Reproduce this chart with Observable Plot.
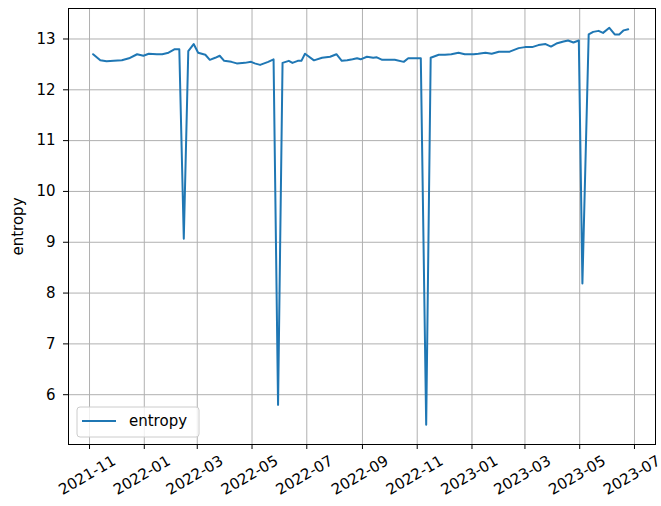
<!DOCTYPE html>
<html><head><meta charset="utf-8">
<script src="https://cdn.jsdelivr.net/npm/d3@7"></script>
<script src="https://cdn.jsdelivr.net/npm/@observablehq/plot@0.6"></script>
<style>body{margin:0;background:#fff} #chart{width:661px;height:506px}</style>
</head><body><div id="chart"></div>
<script>
const seriesName = "entropy";
const dates = [
"2021-11-05","2021-11-13","2021-11-20","2021-11-28","2021-12-07","2021-12-15","2021-12-24","2021-12-31",
"2022-01-06","2022-01-15","2022-01-21","2022-01-28","2022-02-04","2022-02-09","2022-02-14","2022-02-19",
"2022-02-25","2022-03-02","2022-03-10","2022-03-15","2022-03-21","2022-03-26","2022-03-31","2022-04-08",
"2022-04-14","2022-04-23","2022-04-30","2022-05-04","2022-05-10","2022-05-19","2022-05-25","2022-05-30",
"2022-06-04","2022-06-11","2022-06-15","2022-06-21","2022-06-25","2022-06-29","2022-07-09","2022-07-18",
"2022-07-27","2022-08-03","2022-08-09","2022-08-15","2022-08-21","2022-08-26","2022-08-30","2022-09-06",
"2022-09-13","2022-09-17","2022-09-23","2022-09-30","2022-10-07","2022-10-17","2022-10-22","2022-10-29",
"2022-11-05","2022-11-11","2022-11-16","2022-11-25","2022-12-02","2022-12-09","2022-12-17","2022-12-24",
"2023-01-03","2023-01-08","2023-01-16","2023-01-23","2023-01-31","2023-02-06","2023-02-12","2023-02-22",
"2023-03-01","2023-03-09","2023-03-16","2023-03-24","2023-03-30","2023-04-05","2023-04-13","2023-04-18",
"2023-04-24","2023-04-30","2023-05-04","2023-05-11","2023-05-16","2023-05-22","2023-05-27","2023-06-03",
"2023-06-09","2023-06-14","2023-06-19","2023-06-24"
];
const entropy = [
12.70,12.58,12.56,12.57,12.58,12.62,12.70,12.67,
12.71,12.70,12.70,12.73,12.80,12.80,9.07,12.76,
12.90,12.73,12.69,12.59,12.63,12.67,12.57,12.55,
12.52,12.53,12.55,12.52,12.49,12.55,12.60,5.80,
12.53,12.57,12.53,12.57,12.57,12.71,12.58,12.63,
12.65,12.70,12.57,12.58,12.60,12.62,12.60,12.65,
12.63,12.64,12.59,12.59,12.59,12.55,12.62,12.62,
12.62,5.41,12.63,12.69,12.69,12.70,12.73,12.70,
12.70,12.71,12.73,12.71,12.75,12.75,12.75,12.82,
12.84,12.84,12.88,12.90,12.85,12.91,12.95,12.97,
12.93,12.97,8.19,13.09,13.14,13.16,13.12,13.22,
13.09,13.09,13.17,13.19
];
const xTicks = ["2021-11-01","2022-01-01","2022-03-01","2022-05-01","2022-07-01","2022-09-01",
"2022-11-01","2023-01-01","2023-03-01","2023-05-01","2023-07-01"];
const yTicks = [6,7,8,9,10,11,12,13];

const data = dates.map((d, i) => ({date: new Date(d), value: entropy[i]}));
const tickDates = xTicks.map(d => new Date(d));
const fmt = d3.utcFormat("%Y-%m");
const font = "DejaVu Sans, sans-serif";
const fs = 15;

const plot = Plot.plot({
  width: 661, height: 506,
  marginLeft: 68, marginRight: 6, marginTop: 8, marginBottom: 62,
  style: {fontFamily: font, fontSize: fs + "px", color: "#000", background: "#fff"},
  x: {type: "utc", domain: [new Date("2021-10-08T14:00Z"), new Date("2023-07-24T10:00Z")]},
  y: {domain: [5.02, 13.60]},
  marks: [
    Plot.gridX(tickDates, {stroke: "#b0b0b0", strokeOpacity: 1, strokeWidth: 1}),
    Plot.gridY(yTicks, {stroke: "#b0b0b0", strokeOpacity: 1, strokeWidth: 1}),
    Plot.line(data, {x: "date", y: "value", stroke: "#1f77b4", strokeWidth: 2}),
    Plot.frame({stroke: "#000", strokeWidth: 1}),
    Plot.axisY(yTicks, {tickSize: 5, tickPadding: 8, label: null, fontSize: fs, tickFormat: d => String(d)}),
    Plot.axisX(tickDates, {tickSize: 5, tickFormat: () => "", label: null}),
    Plot.text(tickDates, {x: d => d, text: d => fmt(d), frameAnchor: "bottom", dy: 35,
      rotate: -30, textAnchor: "middle", fontSize: fs, fill: "#000"}),
    Plot.text([seriesName], {frameAnchor: "left", dx: -50, rotate: -90,
      textAnchor: "middle", fontSize: fs, fill: "#000"})
  ]
});
document.getElementById("chart").appendChild(plot);

// legend (inside axes, lower left)
const svg = d3.select(plot);
const lg = svg.append("g").attr("font-family", font).attr("font-size", fs).attr("text-anchor", "start");
lg.append("rect").attr("x", 77).attr("y", 407).attr("width", 122).attr("height", 30)
  .attr("rx", 3).attr("fill", "#fff").attr("fill-opacity", 0.8).attr("stroke", "#cccccc");
lg.append("line").attr("x1", 82).attr("x2", 116).attr("y1", 421).attr("y2", 421)
  .attr("stroke", "#1f77b4").attr("stroke-width", 2);
lg.append("text").attr("x", 129).attr("y", 421).attr("dy", "0.35em").attr("fill", "#000")
  .attr("text-anchor", "start").text(seriesName);
</script>
</body></html>
